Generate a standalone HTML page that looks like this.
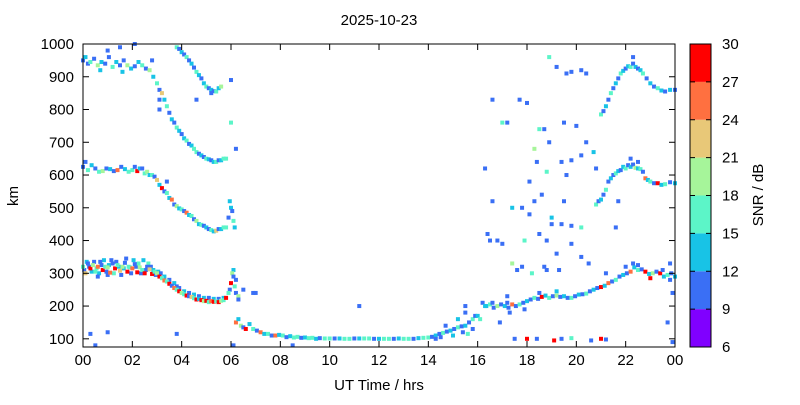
<!DOCTYPE html>
<html><head><meta charset="utf-8"><style>
body{margin:0;background:#fff;font-family:"Liberation Sans",sans-serif}
svg text{font-family:"Liberation Sans",sans-serif;font-size:15px;fill:#000}
</style></head><body>
<svg id="c" width="800" height="400"></svg>
<script>
const xTicks=["00","02","04","06","08","10","12","14","16","18","20","22","00"];
const yTicks=[100,200,300,400,500,600,700,800,900,1000];
const cbTicks=[6,9,12,15,18,21,24,27,30];
const cbColors=["#8000ff","#3a6ff5","#18c3e6","#5cf5c8","#a6f59a","#e8c878","#ff7040","#ff0000"];
// each point: [hour, km, snr]
const traceF1=[[0,320,15],[0.1,300,21],[0.2,330,10],[0.3,315,27],[0.4,325,18],[0.5,305,15],[0.6,320,24],[0.7,335,10],[0.8,310,27],[0.9,320,15],[1,318,18],[1.1,302,24],[1.2,330,10],[1.3,315,27],[1.4,325,15],[1.5,308,21],[1.6,320,18],[1.7,332,10],[1.8,305,27],[1.9,318,15],[2,315,24],[2.1,328,10],[2.2,303,27],[2.3,318,18],[2.4,310,15],[2.5,300,27],[2.6,320,10],[2.7,312,21],[2.8,298,27],[2.9,305,15],[3,300,18],[3.1,290,27],[3.2,285,15],[3.3,278,24],[3.4,275,15],[3.5,268,27],[3.6,262,10],[3.7,255,24],[3.8,250,15],[3.9,245,27],[4,240,18],[4.1,236,15],[4.2,232,27],[4.3,230,10],[4.4,228,21],[4.5,224,15],[4.6,220,27],[4.7,222,13],[4.8,218,27],[4.9,215,18],[5,216,27],[5.1,212,15],[5.2,215,24],[5.3,213,27],[5.4,214,15],[5.5,212,27],[5.6,216,18],[5.7,218,15],[5.8,225,27],[5.9,240,15],[6,270,27],[6.05,300,18],[6.1,290,10],[6.15,260,15],[6.2,240,10],[6.3,230,18]];
const traceF1b=[[0.05,310,10],[0.15,335,13],[0.25,320,10],[0.35,305,13],[0.45,335,10],[0.55,315,16],[0.65,300,13],[0.75,325,10],[0.85,340,13],[0.95,305,10],[1.05,325,13],[1.15,340,10],[1.25,300,16],[1.35,335,10],[1.45,320,13],[1.55,295,10],[1.65,315,13],[1.75,345,10],[1.85,320,16],[1.95,300,10],[2.05,340,13],[2.15,320,10],[2.25,330,16],[2.35,300,10],[2.45,340,13],[2.55,310,10],[2.65,330,16],[2.75,320,10],[2.85,310,13],[2.95,295,10],[3.05,305,13],[3.15,300,10],[3.3,290,13],[3.5,280,10],[3.7,270,13],[3.9,255,10],[4.1,245,13],[4.3,240,10],[4.5,235,13],[4.7,230,10],[4.9,225,13],[5.1,225,10],[5.3,222,13],[5.5,222,10],[5.7,225,13],[5.95,250,10],[6.1,310,13],[6.2,280,10],[0.6,290,10],[1,295,10],[3.8,260,10],[6.5,250,10],[6.9,240,10]];
const traceE=[[6.2,150,24],[6.3,160,13],[6.4,140,18],[6.5,135,10],[6.6,130,27],[6.75,145,13],[6.9,130,15],[7.05,125,10],[7.2,120,24],[7.35,115,13],[7.5,115,15],[7.65,110,10],[7.8,110,24],[7.95,112,13],[8.1,110,15],[8.25,105,10],[8.4,108,13],[8.55,104,16],[8.7,106,15],[8.85,103,10],[9,104,13],[9.15,102,16],[9.3,103,15],[9.45,100,13],[9.6,102,10],[9.8,101,16],[10,101,15],[10.2,101,10],[10.4,101,13],[10.6,100,16],[10.8,100,15],[11,101,10],[11.2,101,13],[11.4,101,16],[11.6,101,15],[11.8,100,10],[12,100,13],[12.2,100,16],[12.4,100,15],[12.6,100,10],[12.8,101,13],[13,100,16],[13.2,100,15],[13.4,100,10],[13.6,102,13],[13.8,103,16],[14,104,15],[14.15,106,10],[14.3,110,13],[14.45,115,10],[14.6,118,15],[14.75,122,10],[14.9,125,13],[15.05,130,10],[15.2,135,15],[15.35,138,10],[15.5,140,13],[15.65,150,10],[15.8,160,15],[15.9,170,10],[16,170,13],[14.5,105,10],[15,110,13],[15.4,120,10],[15.6,115,16],[15.8,130,10],[14.7,140,10],[15.2,160,13],[15.5,180,10],[16.1,160,16]];
const traceF1e=[[16.2,210,10],[16.35,200,13],[16.5,205,15],[16.65,195,10],[16.8,200,18],[16.95,205,10],[17.1,200,13],[17.25,195,10],[17.4,205,24],[17.55,200,10],[17.7,205,15],[17.85,210,10],[18,215,13],[18.15,220,10],[18.3,225,15],[18.45,222,10],[18.6,228,27],[18.75,232,13],[18.9,225,15],[19.05,230,10],[19.2,232,18],[19.35,228,10],[19.5,230,13],[19.65,225,10],[19.8,225,15],[19.95,230,10],[20.1,235,13],[20.25,236,10],[20.4,238,15],[20.55,245,10],[20.7,250,13],[20.85,255,10],[21,258,27],[21.15,262,13],[21.3,270,24],[21.45,275,10],[21.6,280,15],[21.75,290,10],[21.9,295,13],[22.05,300,10],[22.2,305,24],[22.35,318,13],[22.5,310,15],[22.65,312,10],[22.8,305,27],[22.95,298,13],[23.1,300,18],[23.25,305,10],[23.4,300,27],[23.55,290,13],[23.7,295,15],[23.85,300,10],[24,290,13],[22,320,10],[22.5,325,10],[23,285,27],[23.5,310,10],[22.3,330,10],[23.8,280,10],[23.9,240,10],[16.6,210,10],[17.2,210,10],[18.5,240,10],[19.2,245,13]];
const traceF2=[[0,625,10],[0.1,640,10],[0.2,615,15],[0.35,630,13],[0.5,620,10],[0.65,610,16],[0.8,612,18],[0.95,620,10],[1.1,618,13],[1.25,612,10],[1.4,615,24],[1.55,625,10],[1.7,618,13],[1.85,610,16],[2,615,15],[2.1,625,10],[2.2,612,27],[2.3,620,13],[2.4,620,10],[2.5,605,16],[2.6,610,18],[2.7,600,13],[2.8,600,15],[2.9,595,10],[3,585,21],[3.1,570,13],[3.2,560,27],[3.3,550,10],[3.4,545,15],[3.5,530,13],[3.6,525,24],[3.7,510,10],[3.8,505,18],[3.9,498,13],[4,495,15],[4.1,490,10],[4.2,485,24],[4.3,478,13],[4.4,475,15],[4.5,465,10],[4.6,460,18],[4.7,450,13],[4.8,448,15],[4.9,445,10],[5,440,13],[5.1,435,10],[5.2,432,15],[5.3,428,13],[5.4,430,21],[5.5,435,10],[5.6,435,13],[5.7,440,16],[5.8,440,15],[5.9,470,10],[6,500,13],[6.05,490,10],[6.1,460,15],[5.95,520,13],[6.15,440,13]];
const traceF2e=[[20.8,510,15],[20.9,520,10],[21,525,13],[21.1,540,10],[21.2,555,15],[21.3,580,10],[21.4,590,13],[21.5,600,10],[21.6,605,15],[21.7,612,13],[21.8,615,10],[21.9,625,13],[22,620,15],[22.1,630,10],[22.2,625,13],[22.3,632,10],[22.4,622,18],[22.5,620,13],[22.6,618,15],[22.7,610,10],[22.8,590,24],[22.9,585,13],[23,580,15],[23.15,575,10],[23.3,575,27],[23.45,570,13],[23.6,572,15],[23.8,578,10],[24,575,13],[22.2,650,10],[22.5,640,10]];
const traceF3=[[0,950,10],[0.1,960,13],[0.2,940,10],[0.3,945,15],[0.45,955,10],[0.6,935,18],[0.75,945,13],[0.9,940,10],[1.05,960,10],[1.2,930,15],[1.35,945,13],[1.5,935,10],[1.65,950,10],[1.8,935,18],[1.95,925,13],[2.1,932,10],[2.25,945,13],[2.4,935,15],[2.55,925,10],[2.7,920,18],[2.85,900,13],[3,880,15],[3.1,860,10],[3.2,850,21],[3.3,830,13],[3.4,810,15],[3.5,790,10],[3.6,770,13],[3.7,760,10],[3.8,745,15],[3.9,735,13],[4,725,10],[4.1,712,13],[4.2,705,15],[4.3,695,10],[4.4,690,13],[4.5,680,16],[4.6,670,15],[4.7,665,10],[4.8,660,13],[4.9,655,10],[5,650,15],[5.1,648,13],[5.2,645,10],[5.3,640,13],[5.4,640,15],[5.5,645,10],[5.6,645,13],[5.7,650,16],[5.8,650,15],[1,980,10],[1.5,990,10],[2.1,1000,10],[0.7,920,13],[1.6,915,13],[3.1,830,10],[3.1,800,10]];
const traceF3b=[[3.8,990,15],[3.9,985,10],[4,975,13],[4.1,968,10],[4.2,960,15],[4.3,950,10],[4.4,940,13],[4.5,928,10],[4.6,915,15],[4.7,905,13],[4.8,895,10],[4.9,880,13],[5,870,15],[5.1,865,10],[5.2,860,13],[5.3,856,10],[5.4,855,15],[5.5,865,13],[5.6,870,18],[5.2,850,10]];
const traceF3e=[[21,785,15],[21.1,795,10],[21.2,810,13],[21.3,830,10],[21.4,850,15],[21.5,865,10],[21.6,880,13],[21.7,895,10],[21.8,910,15],[21.9,918,13],[22,925,10],[22.1,932,13],[22.2,930,15],[22.3,940,10],[22.4,930,13],[22.5,925,10],[22.6,920,13],[22.7,910,15],[22.85,895,10],[23,880,13],[23.15,870,10],[23.3,865,15],[23.45,858,13],[23.6,855,10],[23.8,860,13],[24,860,10],[22.3,960,10]];
const sparse=[[16.3,620,10],[16.6,520,10],[16.4,420,10],[17.2,760,10],[17.7,830,10],[17.8,500,10],[17.9,400,15],[18.1,580,10],[18.3,680,18],[18.5,740,15],[18.7,740,10],[18.9,960,15],[19.2,930,10],[19.6,910,10],[19.8,915,10],[20.2,920,10],[20.4,910,10],[18.4,640,10],[18.8,610,15],[19.4,640,10],[19.8,645,10],[20.2,660,10],[18.6,540,10],[19,450,10],[19.4,450,10],[19.8,445,10],[20.2,440,15],[19.5,520,10],[16.5,400,10],[17,390,10],[17.4,330,18],[17.8,320,10],[18.2,300,15],[18.8,310,10],[19.2,360,10],[19.8,390,10],[20.2,350,10],[17.5,100,10],[18,100,27],[18.4,100,10],[19.1,95,27],[19.4,100,10],[19.8,102,15],[21,100,27],[21.2,98,10],[0.5,80,10],[1,120,10],[3.8,115,10],[8.5,80,10],[11.2,200,10],[6.1,80,10],[4.6,830,10],[3.4,580,10],[6,760,15],[6,890,10],[6.2,680,10],[6.3,220,10],[7,240,10],[16.6,830,10],[17,760,16],[18.9,700,10],[19.5,760,10],[20,750,10],[20.4,700,10],[17.6,310,10],[18.5,420,10],[18.8,400,10],[19.6,600,10],[20.8,620,10],[21.7,520,10],[19,470,13],[18.3,520,10],[16.3,200,13],[17.3,180,10],[17.9,190,10],[18.7,320,10],[19.3,310,10],[20.7,670,13],[21.6,440,10],[20.6,95,10],[23.9,90,10],[23.7,150,10],[23.8,330,10],[0.3,115,10],[2.8,950,10],[16.9,150,10],[17.2,230,10],[20.5,330,10],[18.1,480,10],[17.4,500,13],[16.8,400,10],[18,820,10],[21.2,300,10],[15.5,200,10],[14.3,100,10]];
const snrColor=v=>cbColors[Math.max(0,Math.min(7,Math.floor((v-6)/3)))];
const svg=document.getElementById('c');const NS="http://www.w3.org/2000/svg";
const X0=83,X1=675,Y0=347,Y1=44;
const xs=h=>X0+(X1-X0)*h/24;
const ys=k=>Y0-(Y0-Y1)*(k-75)/(1000-75);
function el(t,a,p){const e=document.createElementNS(NS,t);for(const k in a)e.setAttribute(k,a[k]);(p||svg).appendChild(e);return e;}
const marks=el('g',{});


[traceF1b,traceF1,traceE,traceF1e,traceF2,traceF2e,traceF3,traceF3b,traceF3e,sparse].forEach(tr=>{
 tr.forEach(p=>{
  const r=el('rect',{x:xs(p[0])-2,y:ys(p[1])-2,width:4,height:4,fill:snrColor(p[2])},marks);
  
  
 });
});
const frame=el('rect',{x:X0,y:Y1,width:X1-X0,height:Y0-Y1,fill:'none',stroke:'#000','stroke-width':1});


xTicks.forEach((t,i)=>{const x=xs(i*2);
 el('line',{x1:x,x2:x,y1:Y0,y2:Y0-6,stroke:'#000'});el('line',{x1:x,x2:x,y1:Y1,y2:Y1+6,stroke:'#000'});
 const tx=el('text',{x:x,y:Y0+18,'text-anchor':'middle'});tx.textContent=t;
 
 
});
yTicks.forEach(v=>{const y=ys(v);
 el('line',{x1:X0,x2:X0+6,y1:y,y2:y,stroke:'#000'});el('line',{x1:X1,x2:X1-6,y1:y,y2:y,stroke:'#000'});
 const tx=el('text',{x:X0-9,y:y+5,'text-anchor':'end'});tx.textContent=v;
 
 
});
const CX=690,CW=21;
cbColors.forEach((c,i)=>{const yb=Y0-(Y0-Y1)*i/8,yt=Y0-(Y0-Y1)*(i+1)/8;
 const r=el('rect',{x:CX,y:yt,width:CW,height:yb-yt,fill:c});
 
 
});
el('rect',{x:CX,y:Y1,width:CW,height:Y0-Y1,fill:'none',stroke:'#000'});
cbTicks.forEach((v,i)=>{const y=Y0-(Y0-Y1)*i/8;
 el('line',{x1:CX,x2:CX+5,y1:y,y2:y,stroke:'#000'});el('line',{x1:CX+CW,x2:CX+CW-5,y1:y,y2:y,stroke:'#000'});
 const tx=el('text',{x:CX+CW+11,y:y+5});tx.textContent=v;
 
 
});
const t1=el('text',{x:379,y:25,'text-anchor':'middle'});t1.textContent='2025-10-23';


const t2=el('text',{x:379,y:390,'text-anchor':'middle'});t2.textContent='UT Time / hrs';


const t3=el('text',{x:18,y:196,'text-anchor':'middle',transform:'rotate(-90 18 196)'});t3.textContent='km';


const t4=el('text',{x:763,y:195,'text-anchor':'middle',transform:'rotate(-90 763 195)'});t4.textContent='SNR / dB';


</script>
</body></html>
